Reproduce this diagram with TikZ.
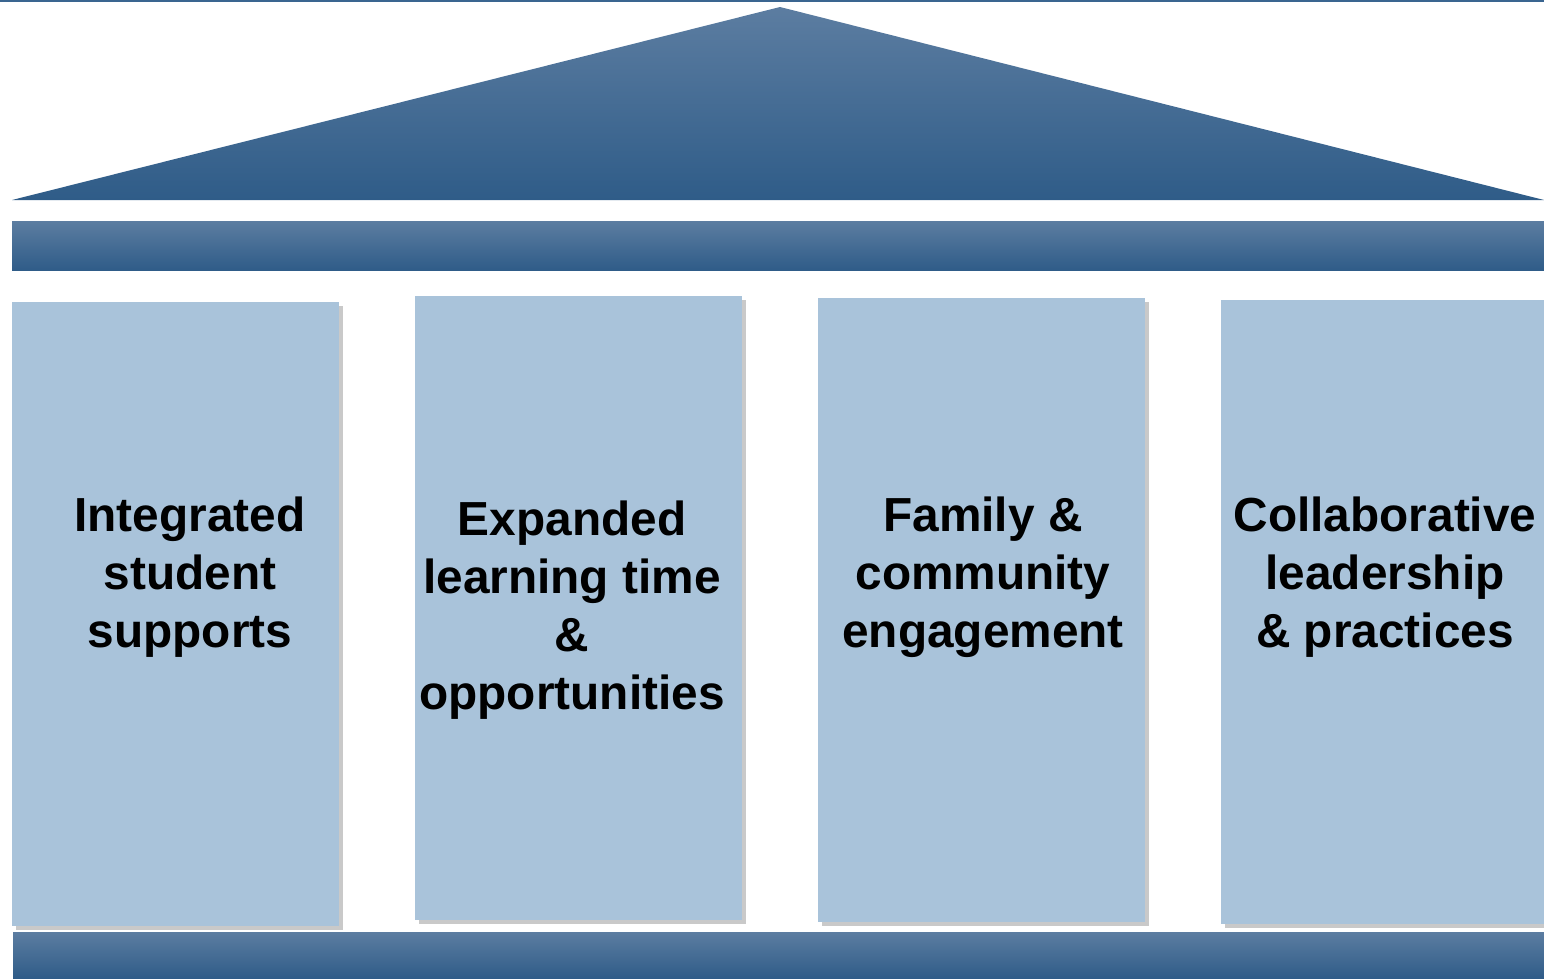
\documentclass[tikz,border=0pt]{standalone}
\usepackage{fontspec}
\setmainfont{Liberation Sans}
\usetikzlibrary{positioning, shadows}
\definecolor{roofblue}{HTML}{2F5C88}
\definecolor{rooftop}{HTML}{5C7DA1}
\definecolor{pillarblue}{HTML}{A9C3DA}
\definecolor{edgeblue}{HTML}{3A6590}

\begin{document}
\begin{tikzpicture}[x=0.02cm, y=-0.02cm,
        beam/.style={top color=rooftop, bottom color=roofblue},
        pillar/.style={fill=pillarblue, drop shadow={shadow xshift=2pt, shadow yshift=-2pt, opacity=0.35, fill=black!60}},
        label/.style={align=center, inner sep=0pt, font=\fontsize{27.2}{33}\selectfont\bfseries}
    ]
      \useasboundingbox (0,0) rectangle (1544,978);
      \fill[white] (0,0) rectangle (1544,978);

      % Top rule
      \fill[edgeblue] (0,0) rectangle (1544,2);

      % Roof
      \coordinate (eaveL) at (12,200);
      \coordinate (peak) at (780,7);
      \coordinate (eaveR) at (1544,200);
      \shade[beam] (eaveL) -- (peak) -- (eaveR) -- cycle;

      % Beam under the roof
      \shade[beam] (12,221) rectangle (1544,270);

      % Pillars
      \path[pillar] (12,302) rectangle (339,926);
      \path[pillar] (415,296) rectangle (742,920);
      \path[pillar] (818,298) rectangle (1145,922);
      \path[pillar] (1221,300) rectangle (1544,924);

      % Pillar labels
      \node[label] (support) at (190,577) {Integrated\\student\\supports};
      \node[label] (learning) at (572,610) {Expanded\\learning time\\\&\\opportunities};
      \node[label] (family) at (983,577) {Family \&\\community\\engagement};
      \node[label] (leader) at (1385,577) {Collaborative\\leadership\\\& practices};

      % Foundation
      \shade[beam] (13,932) rectangle (1544,978);
    \end{tikzpicture}
\end{document}
